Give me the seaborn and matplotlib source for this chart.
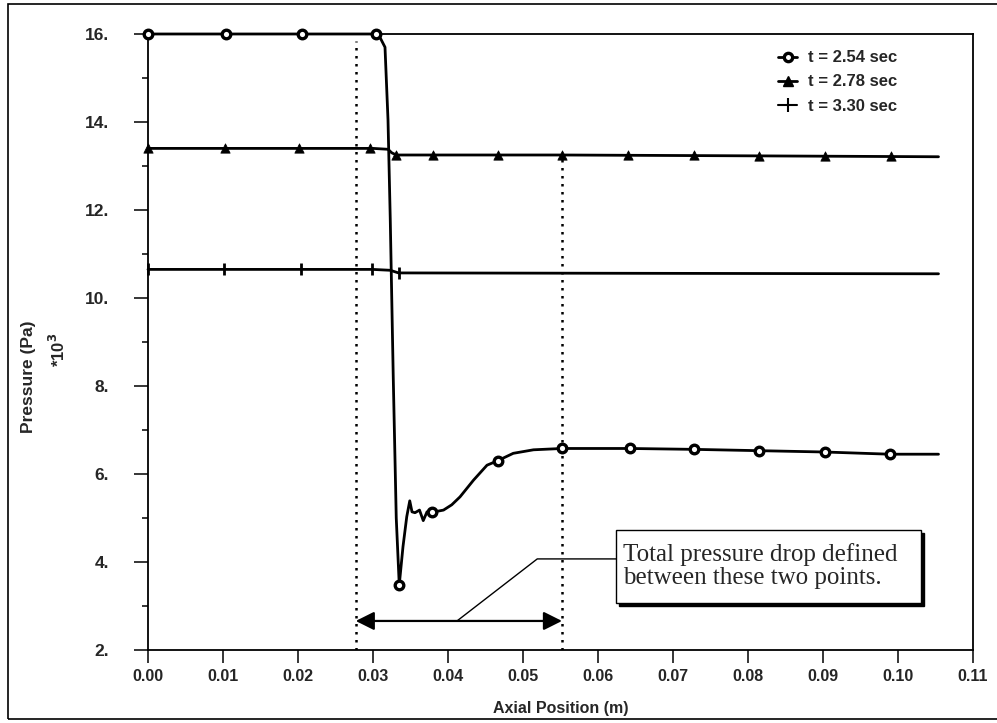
import numpy as np
import pandas as pd
import matplotlib
matplotlib.use("Agg")
import matplotlib.pyplot as plt
from matplotlib.lines import Line2D
from matplotlib.patches import Rectangle
from matplotlib.ticker import MultipleLocator, FuncFormatter
import seaborn as sns

# ---------------------------------------------------------------------------
# data (x in m, pressure in kPa)
# ---------------------------------------------------------------------------
t254_x = [0.0, 0.0304, 0.0310, 0.0316, 0.0320, 0.0323, 0.0327, 0.0331, 0.0335,
          0.0340, 0.0345, 0.0349, 0.0352, 0.0356, 0.0362, 0.0367, 0.0372, 0.0379,
          0.0394, 0.0405, 0.0416, 0.0434, 0.0452, 0.0466, 0.0487, 0.0514, 0.0552,
          0.0642, 0.0728, 0.0815, 0.0902, 0.0989, 0.1054]
t254_y = [16.0, 16.0, 15.9, 15.7, 14.05, 11.8, 8.2, 5.0, 3.48,
          4.35, 5.03, 5.39, 5.14, 5.12, 5.18, 4.94, 5.14, 5.13,
          5.18, 5.30, 5.48, 5.86, 6.20, 6.30, 6.47, 6.55, 6.58,
          6.58, 6.56, 6.53, 6.50, 6.45, 6.45]
t254_mx = [0.0, 0.0104, 0.0205, 0.0304, 0.0335, 0.0379, 0.0466, 0.0552,
           0.0642, 0.0728, 0.0815, 0.0902, 0.0989]
t254_my = [16.0, 16.0, 16.0, 16.0, 3.48, 5.13, 6.30, 6.58,
           6.58, 6.56, 6.53, 6.50, 6.45]

t278_x = [0.0, 0.0300, 0.0320, 0.0325, 0.0331, 0.0552, 0.0815, 0.1054]
t278_y = [13.40, 13.40, 13.38, 13.30, 13.25, 13.25, 13.23, 13.21]
t278_mx = [0.0, 0.0102, 0.0201, 0.0296, 0.0331, 0.0380, 0.0466, 0.0552,
           0.0640, 0.0728, 0.0815, 0.0903, 0.0991]
t278_my = [13.40, 13.40, 13.40, 13.40, 13.25, 13.25, 13.25, 13.25,
           13.25, 13.24, 13.23, 13.23, 13.23]

t330_x = [0.0, 0.0299, 0.0323, 0.0334, 0.1054]
t330_y = [10.65, 10.65, 10.63, 10.57, 10.55]
t330_mx = [0.0, 0.0101, 0.0204, 0.0299, 0.0334]
t330_my = [10.65, 10.65, 10.65, 10.65, 10.57]

labels = ["t = 2.54 sec", "t = 2.78 sec", "t = 3.30 sec"]

# section limits for the pressure drop
drop_x0 = 0.0277
drop_x1 = 0.0552
note = "Total pressure drop defined\nbetween these two points."

sns.set_theme(style="ticks")
plt.rcParams["font.family"] = ["Liberation Sans", "DejaVu Sans"]
plt.rcParams["font.weight"] = "bold"

fig = plt.figure(figsize=(9.97, 7.23), dpi=100)
ax = fig.add_axes([148 / 997, 1 - 650 / 723, (973 - 148) / 997, (650 - 34) / 723])

# curves
for xs, ys in ((t254_x, t254_y), (t278_x, t278_y), (t330_x, t330_y)):
    sns.lineplot(x=xs, y=ys, ax=ax, color="black", lw=2.0, sort=False,
                 estimator=None, clip_on=False, zorder=3)

sns.scatterplot(x=t254_mx, y=t254_my, ax=ax, marker="o", s=38,
                facecolor="white", edgecolor="black", linewidth=2.4,
                clip_on=False, zorder=4)
sns.scatterplot(x=t278_mx, y=t278_my, ax=ax, marker="^", s=45,
                color="black", edgecolor="black", clip_on=False, zorder=4)
sns.scatterplot(x=t330_mx, y=t330_my, ax=ax, marker="|", s=80,
                color="black", linewidth=2.0, clip_on=False, zorder=4)

# dotted section markers
ax.vlines(drop_x0, 2, 15.85, colors="black", lw=1.8, linestyles=(0, (1, 2.2)), zorder=2)
ax.vlines(drop_x1, 2, 13.25, colors="black", lw=1.8, linestyles=(0, (1, 2.2)), zorder=2)

# double arrow + leader + note box
ax.annotate("", xy=(drop_x0, 2.66), xytext=(drop_x1, 2.66),
            arrowprops=dict(arrowstyle="<|-|>", mutation_scale=28, color="black",
                            lw=1.6, shrinkA=0, shrinkB=0))
ax.plot([0.0412, 0.0519, 0.0624], [2.66, 4.07, 4.07], color="black", lw=1.0)
ax.add_patch(Rectangle((0.0628, 3.00), 0.0407, 1.66, fc="black", ec="black",
                       lw=1, zorder=5))
ax.add_patch(Rectangle((0.0624, 3.07), 0.0407, 1.66, fc="white", ec="black",
                       lw=1, zorder=6))
ax.text(0.0633, 3.91, note, ha="left", va="center", fontsize=18,
        family=["Liberation Serif", "DejaVu Serif"], fontweight="normal",
        linespacing=1.1, zorder=7)

# axes styling
ax.set_xlim(0, 0.11)
ax.set_ylim(2, 16)
ax.set_xticks(np.arange(0, 0.1101, 0.01))
ax.xaxis.set_major_formatter(FuncFormatter(lambda v, p: f"{v:.2f}"))
ax.yaxis.set_major_locator(MultipleLocator(2))
ax.yaxis.set_minor_locator(MultipleLocator(1))
ax.yaxis.set_major_formatter(FuncFormatter(lambda v, p: f"{v:.0f}."))
ax.tick_params(axis="y", which="major", direction="out", length=10, width=1.3,
               pad=18, labelsize=12.5)
ax.tick_params(axis="y", which="minor", direction="out", length=4.5, width=1.3)
ax.tick_params(axis="x", which="major", direction="out", length=9, width=1.3,
               pad=5, labelsize=11.5)
for lab in ax.get_xticklabels() + ax.get_yticklabels():
    lab.set_fontweight("bold")
for sp in ax.spines.values():
    sp.set_linewidth(1.3)
    sp.set_color("black")
ax.set_xlabel("Axial Position (m)", fontsize=11.5, fontweight="bold", labelpad=12)
ax.set_ylabel("")

fig.text(28 / 997, 1 - 377 / 723, "Pressure (Pa)", rotation=90, ha="center",
         va="center", fontsize=12.5, fontweight="bold")
fig.text(58 / 997, 1 - 350 / 723, r"*10$^{\mathbf{3}}$", rotation=90, ha="center",
         va="center", fontsize=12, fontweight="bold")

# legend
handles = [
    Line2D([], [], color="black", lw=2, marker="o", markersize=6,
           markerfacecolor="white", markeredgewidth=2.4),
    Line2D([], [], color="black", lw=2, marker="^", markersize=6.5),
    Line2D([], [], color="black", lw=1.5, marker="|", markersize=10,
           markeredgewidth=1.5),
]
ax.legend(handles, labels, loc="upper left", bbox_to_anchor=(770 / 997, 1 - 42 / 723),
          bbox_transform=fig.transFigure, frameon=False, handlelength=1.1,
          handletextpad=0.7, labelspacing=0.55, borderpad=0,
          prop=dict(size=12, weight="bold"))

# outer frame
fig.add_artist(Rectangle((8 / 997, 4 / 723), 1.0, 1 - 8 / 723, fill=False,
                         ec="black", lw=1.2, transform=fig.transFigure))

fig.savefig("out.png", dpi=100)
plt.close(fig)
